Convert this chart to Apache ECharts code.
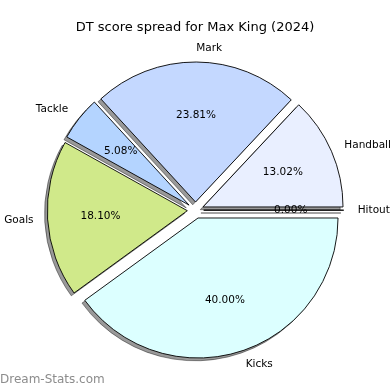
<!DOCTYPE html>
<html><head><meta charset="utf-8">
<script src="https://cdn.jsdelivr.net/npm/echarts@6/dist/echarts.min.js"></script>
<style>html,body{margin:0;padding:0;background:#fff}#c{width:390px;height:390px}</style>
</head><body><div id="c"></div>
<script>
var categories = ['Hitout', 'Handball', 'Mark', 'Tackle', 'Goals', 'Kicks'];
var values = [0.00, 13.02, 23.81, 5.08, 18.10, 40.00];
var colors = ['#e0e0e0', '#e9efff', '#c4d8ff', '#b4d4ff', '#d0e98a', '#dcffff'];
var titleText = 'DT score spread for Max King (2024)';

var R = 140, OFF = 8.2, CENTER = [195.5, 210.2];
var SH = 2.8;
var FONT = 'DejaVu Sans';

function mk(style) {
  return categories.map(function (c, i) {
    return {
      name: c, value: values[i], selected: true,
      itemStyle: style === 'main' ? { color: colors[i] } : (style === 'shadow' ? { color: 'rgba(0,0,0,0.4)' } : { color: 'rgba(0,0,0,0)' })
    };
  });
}

var base = {
  type: 'pie', radius: [0, R], center: CENTER,
  startAngle: 0, clockwise: false, selectedMode: 'multiple', selectedOffset: OFF,
  avoidLabelOverlap: false, silent: true, minShowLabelAngle: -1,
  emphasis: { disabled: true }
};

var chart = echarts.init(document.getElementById('c'), null, { renderer: 'canvas' });
chart.setOption({
  animation: false,
  backgroundColor: '#fff',
  title: {
    text: titleText, left: 'center', top: 16,
    textStyle: { fontFamily: FONT, fontSize: 13, fontWeight: 'normal', color: '#000' }
  },
  graphic: [{
    type: 'text', left: 0, top: 374,
    style: { text: 'Dream-Stats.com', fontFamily: FONT, fontSize: 12, fontWeight: 'normal', fill: '#8c8c8c' }
  }],
  series: [
    Object.assign({}, base, {
      center: [CENTER[0] - SH, CENTER[1] + SH], z: 1,
      itemStyle: { borderColor: 'rgba(0,0,0,0.4)', borderWidth: 1 },
      label: { show: false }, labelLine: { show: false },
      data: mk('shadow')
    }),
    Object.assign({}, base, {
      z: 2,
      itemStyle: { borderColor: '#000', borderWidth: 0.9 },
      label: {
        show: true, position: 'outside', distanceToLabelLine: 0,
        formatter: '{b}', fontFamily: FONT, fontSize: 10.5, color: '#000'
      },
      labelLine: { show: false, length: R * 0.1, length2: 0 },
      data: mk('main')
    }),
    Object.assign({}, base, {
      radius: [0, R * 1.2], z: 3,
      label: {
        show: true, position: 'inside', fontFamily: FONT, fontSize: 10.5, color: '#000',
        formatter: function (p) { return p.value.toFixed(2) + '%'; }
      },
      labelLine: { show: false },
      data: mk('none')
    })
  ]
});
</script></body></html>
